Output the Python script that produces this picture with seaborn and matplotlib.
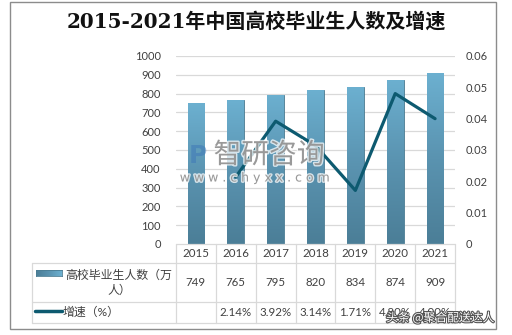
import numpy as np
import pandas as pd
import matplotlib
matplotlib.use("Agg")
import matplotlib.pyplot as plt
import seaborn as sns
from matplotlib.lines import Line2D
from matplotlib.patches import Rectangle
import matplotlib.patheffects as pe

years = ["2015", "2016", "2017", "2018", "2019", "2020", "2021"]
graduates = [749, 765, 795, 820, 834, 874, 909]          # 万人
growth = [np.nan, 0.0214, 0.0392, 0.0314, 0.0171, 0.0480, 0.0400]
row_label_bar = "高校毕业生人数（万\n人）"
row_label_line = "增速（%）"
title = "2015-2021年中国高校毕业生人数及增速"

sns.set_theme(style="white")
plt.rcParams["font.family"] = ["Lato", "Noto Sans CJK SC", "DejaVu Sans"]

W, H = 512, 335
fig = plt.figure(figsize=(W / 100, H / 100), dpi=100)

def fx(px):
    return px / W

def fy(py):
    return 1 - py / H

# plot area in pixel terms
L, R, T, B = 176, 455, 56, 244
ax = fig.add_axes([fx(L), fy(B), fx(R - L), (B - T) / H])

df = pd.DataFrame({"year": years, "graduates": graduates, "growth": growth})
sns.barplot(data=df, x="year", y="graduates", ax=ax, color="#5b97b5",
            width=0.42, edgecolor="#4a7c93", linewidth=0.6, zorder=3)
ax.set_ylim(0, 1000)
ax.set_yticks(range(0, 1001, 100))
ax.set_xlim(-0.5, 6.5)
ax.set_xlabel("")
ax.set_ylabel("")
ax.set_xticks([])
for y in range(100, 1001, 100):
    ax.axhline(y, color="#d9d9d9", lw=0.9, zorder=1)
for s in ax.spines.values():
    s.set_visible(False)
ax.tick_params(axis="y", length=0, pad=11, labelsize=8, labelcolor="#404040")

# vertical gradient on each bar
grad = np.linspace(0, 1, 256).reshape(-1, 1)
cmap = matplotlib.colors.LinearSegmentedColormap.from_list(
    "barfade", ["#4b7e97", "#5a93b0", "#6cb0d0"])
for p in ax.patches:
    x0, y0 = p.get_x(), p.get_y()
    w, h = p.get_width(), p.get_height()
    im = ax.imshow(grad, cmap=cmap, aspect="auto", origin="lower",
                   extent=[x0, x0 + w, y0, y0 + h], zorder=3.5)
    im.set_clip_path(p)
ax.set_xlim(-0.5, 6.5)
ax.set_ylim(0, 1000)

ax2 = ax.twinx()
sns.lineplot(x=np.arange(len(years)), y=growth, ax=ax2, color="#0d5a70",
             lw=2.3, zorder=5)
ax2.set_ylim(0, 0.06)
ax2.set_yticks(np.arange(0, 0.061, 0.01))
ax2.set_yticklabels(["0", "0.01", "0.02", "0.03", "0.04", "0.05", "0.06"])
ax2.set_xlim(-0.5, 6.5)
for s in ax2.spines.values():
    s.set_visible(False)
ax2.tick_params(axis="y", length=0, pad=8, labelsize=8, labelcolor="#404040")
ax2.set_ylabel("")

# title
fig.text(0.5, fy(22), title, ha="center", va="center", fontsize=14.4,
         color="#111111", fontweight="bold",
         family=["DejaVu Serif", "Noto Sans CJK SC"])

# data table
gc = "#d9d9d9"
col_w = (R - L) / len(years)
r0, r1, r2, r3 = 244, 263, 302, 323
tl = 32

def hline(y, x0, x1):
    fig.add_artist(Line2D([fx(x0), fx(x1)], [fy(y), fy(y)], color=gc, lw=0.9))

def vline(x, y0, y1):
    fig.add_artist(Line2D([fx(x), fx(x)], [fy(y0), fy(y1)], color=gc, lw=0.9))

hline(r0, L, R)
hline(r1, tl, R)
hline(r2, tl, R)
hline(r3, tl, R)
vline(tl, r1, r3)
for i in range(len(years) + 1):
    vline(L + i * col_w, r0, r3)

tc = "#404040"
for i, yr in enumerate(years):
    cx = L + (i + 0.5) * col_w
    fig.text(fx(cx), fy((r0 + r1) / 2), yr, ha="center", va="center",
             fontsize=8.3, color=tc)
    fig.text(fx(cx), fy((r1 + r2) / 2), f"{graduates[i]}", ha="center",
             va="center", fontsize=8.3, color=tc)
    if not np.isnan(growth[i]):
        fig.text(fx(cx), fy((r2 + r3) / 2), f"{growth[i] * 100:.2f}%",
                 ha="center", va="center", fontsize=8.3, color=tc)

fig.text(fx(119), fy((r1 + r2) / 2), row_label_bar, ha="center", va="center",
         fontsize=8.6, color=tc, linespacing=1.4)
fig.text(fx(63), fy((r2 + r3) / 2), row_label_line, ha="left", va="center",
         fontsize=8.6, color=tc)

# legend keys inside the table
key_ax = fig.add_axes([fx(36), fy(276), fx(26), 6 / H])
key_ax.imshow(grad[::4].T, cmap=cmap, aspect="auto")
key_ax.set_xticks([])
key_ax.set_yticks([])
for s in key_ax.spines.values():
    s.set_color("#4a7c93")
    s.set_linewidth(0.6)
fig.add_artist(Line2D([fx(35), fx(62)], [fy(311), fy(311)],
                      color="#0d5a70", lw=2.5, solid_capstyle="round"))

# outer frame
fig.add_artist(Rectangle((fx(10), fy(329)), fx(486), (329 - 2) / H,
                         fill=False, edgecolor="#8c8c8c", lw=1.0))

# watermark
wm = [pe.withStroke(linewidth=2, foreground="white")]
fig.text(fx(198), fy(156), "P", ha="center", va="center", fontsize=18,
         color="#3f79b8", alpha=0.55, fontweight="bold", family="DejaVu Sans")
fig.text(fx(269), fy(155), "智研咨询", ha="center", va="center", fontsize=20,
         color="#808080", alpha=0.75, family="Noto Sans CJK SC", path_effects=wm)
fig.text(fx(255), fy(178), "w w w . c h y x x . c o m", ha="center",
         va="center", fontsize=9, color="#808080", alpha=0.75,
         family="DejaVu Sans", path_effects=wm)
fig.text(fx(440), fy(318), "头条 @聚合配送达人", ha="center", va="center",
         fontsize=8.5, color="white", family="Noto Sans CJK SC",
         path_effects=[pe.withStroke(linewidth=1.6, foreground="#555555")])

fig.savefig("out.png", dpi=100)
